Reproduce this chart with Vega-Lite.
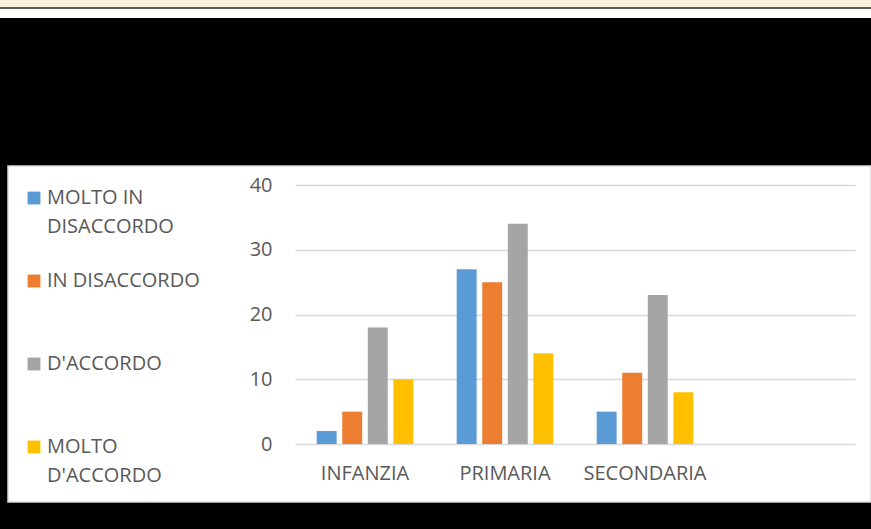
{
  "$schema": "https://vega.github.io/schema/vega-lite/v6.json",
  "background": "black",
  "padding": {"left": 0, "top": 0, "right": 0, "bottom": 27},
  "spacing": 0,
  "bounds": "flush",
  "resolve": {"legend": {"color": "independent"}},
  "config": {
    "view": {"stroke": null},
    "font": "Open Sans",
    "style": {"guide-label": {"lineHeight": 29}}
  },
  "vconcat": [
    {"width": 871, "height": 7, "view": {"fill": "#FBEEDA", "stroke": null}, "data": {"values": []}, "mark": "point", "encoding": {}},
    {"width": 871, "height": 2, "view": {"fill": "#5E5A56", "stroke": null}, "data": {"values": []}, "mark": "point", "encoding": {}},
    {"width": 871, "height": 9, "view": {"fill": "#FFFFFF", "stroke": null}, "data": {"values": []}, "mark": "point", "encoding": {}},
    {"width": 871, "height": 148, "data": {"values": []}, "mark": "point", "encoding": {}},
    {
      "spacing": 7,
      "bounds": "flush",
      "resolve": {"legend": {"color": "independent"}},
      "hconcat": [
        {"width": 1, "height": 336, "data": {"values": []}, "mark": "point", "encoding": {}},
        {
          "width": 863,
          "height": 336,
          "view": {"fill": "white", "stroke": "#d9d9d9", "strokeWidth": 1.5},
          "data": {"values": [
            {"livello": "INFANZIA", "risposta": "MOLTO IN DISACCORDO", "valore": 2},
            {"livello": "INFANZIA", "risposta": "IN DISACCORDO", "valore": 5},
            {"livello": "INFANZIA", "risposta": "D'ACCORDO", "valore": 18},
            {"livello": "INFANZIA", "risposta": "MOLTO D'ACCORDO", "valore": 10},
            {"livello": "PRIMARIA", "risposta": "MOLTO IN DISACCORDO", "valore": 27},
            {"livello": "PRIMARIA", "risposta": "IN DISACCORDO", "valore": 25},
            {"livello": "PRIMARIA", "risposta": "D'ACCORDO", "valore": 34},
            {"livello": "PRIMARIA", "risposta": "MOLTO D'ACCORDO", "valore": 14},
            {"livello": "SECONDARIA", "risposta": "MOLTO IN DISACCORDO", "valore": 5},
            {"livello": "SECONDARIA", "risposta": "IN DISACCORDO", "valore": 11},
            {"livello": "SECONDARIA", "risposta": "D'ACCORDO", "valore": 23},
            {"livello": "SECONDARIA", "risposta": "MOLTO D'ACCORDO", "valore": 8}
          ]},
          "mark": {"type": "bar"},
          "encoding": {
            "x": {
              "field": "livello", "type": "nominal", "sort": null,
              "scale": {"domain": ["INFANZIA", "PRIMARIA", "SECONDARIA", ""], "range": [287, 847], "paddingInner": 0.31, "paddingOuter": 0.155},
              "axis": {"title": null, "orient": "bottom", "offset": -58, "domain": false, "ticks": false, "tickSize": 0, "grid": false, "labelAngle": 0, "labelPadding": 19, "labelFont": "Open Sans", "labelFontSize": 20, "labelColor": "#595959"}
            },
            "xOffset": {
              "field": "risposta", "type": "nominal",
              "scale": {"domain": ["MOLTO IN DISACCORDO", "IN DISACCORDO", "D'ACCORDO", "MOLTO D'ACCORDO"], "paddingInner": 0.22, "paddingOuter": 0}
            },
            "y": {
              "field": "valore", "type": "quantitative",
              "scale": {"domain": [0, 40], "range": [278, 19], "nice": false, "zero": true},
              "axis": {"title": null, "orient": "left", "offset": -287, "domain": false, "ticks": false, "tickSize": 0, "values": [0, 10, 20, 30, 40], "grid": true, "gridColor": "#d9d9d9", "gridWidth": 1.5, "labelPadding": 23, "labelFont": "Open Sans", "labelFontSize": 20, "labelColor": "#595959"}
            },
            "color": {
              "field": "risposta", "type": "nominal",
              "scale": {"domain": ["MOLTO IN DISACCORDO", "IN DISACCORDO", "D'ACCORDO", "MOLTO D'ACCORDO"], "range": ["#5B9BD5", "#ED7D31", "#A5A5A5", "#FFC000"]},
              "legend": {
                "title": null, "orient": "none", "legendX": 16, "legendY": 22, "direction": "vertical",
                "padding": 0, "rowPadding": 34,
                "symbolType": "square", "symbolSize": 165, "symbolStrokeWidth": 0,
                "labelFont": "Open Sans", "labelFontSize": 20, "labelColor": "#595959", "labelOffset": 3, "labelLimit": 400,
                "labelExpr": "datum.label == \"MOLTO IN DISACCORDO\" ? [\"MOLTO IN\", \"DISACCORDO\"] : datum.label == \"MOLTO D'ACCORDO\" ? [\"MOLTO\", \"D'ACCORDO\"] : [datum.label, \"\"]"
              }
            }
          }
        }
      ]
    }
  ]
}
